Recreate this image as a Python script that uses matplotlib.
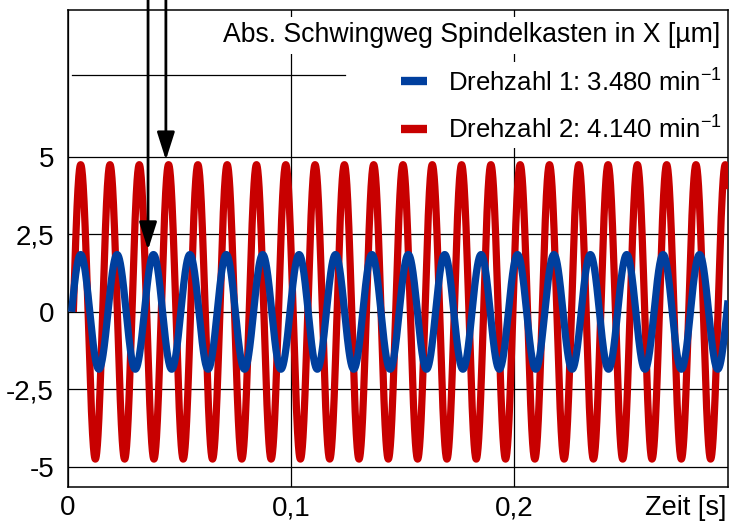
import numpy as np
import matplotlib
matplotlib.use("Agg")
import matplotlib.pyplot as plt
from matplotlib.lines import Line2D

plt.rcParams['font.family'] = ['Liberation Sans', 'DejaVu Sans']

# --- Données ---
titre = "Abs. Schwingweg Spindelkasten in X [µm]"
labels = ["Drehzahl 1: 3.480 min$^{\\mathregular{-1}}$",
          "Drehzahl 2: 4.140 min$^{\\mathregular{-1}}$"]
couleurs = ["#003f9e", "#c80000"]
amplitude = [1.85, 4.75]          # µm
frequence = [61.25, 76.1]         # Hz (période mesurée sur l'image)
debut = [0.0016, 0.0024]          # s, premier passage par zéro
t_fin = 0.296

yticks = [-5, -2.5, 0, 2.5, 5]
yticklabels = ["-5", "-2,5", "0", "2,5", "5"]
xticks = [0, 0.1, 0.2]
xticklabels = ["0", "0,1", "0,2"]
fleches = [(0.0359, 2.0), (0.0439, 4.9)]   # (t, valeur) pointe des flèches

fig = plt.figure(figsize=(7.31, 5.28), dpi=100)
ax = fig.add_axes([68/731, 41/528, 660/731, 477/528])

# Courbes : rouge d'abord, bleu par-dessus
for i in [1, 0]:
    t = np.linspace(debut[i], t_fin, 3000)
    y = amplitude[i] * np.sin(2 * np.pi * frequence[i] * (t - debut[i]))
    ax.plot(t, y, color=couleurs[i], lw=5.2, solid_capstyle='butt', zorder=3)

ax.set_xlim(0, t_fin)
ax.set_ylim(-5.65, 9.74)
ax.set_yticks(yticks)
ax.set_yticklabels(yticklabels)
ax.set_xticks(xticks)
ax.set_xticklabels(xticklabels)
ax.tick_params(length=0, labelsize=20)
ax.tick_params(axis='y', pad=10)
ax.tick_params(axis='x', pad=6)
ax.grid(True, color='black', lw=0.9, zorder=1)
ax.set_axisbelow(True)
for s in ax.spines.values():
    s.set_linewidth(1.1)
ax.axhline(7.65, xmin=0.006, xmax=0.42, color='black', lw=0.9, zorder=1)

ax.annotate("Zeit [s]", xy=(1, 0), xycoords='axes fraction',
            xytext=(-1, -6), textcoords='offset points',
            ha='right', va='top', fontsize=19.5)

# Titre + légende (fond blanc)
ax.text(0.988, 0.947, titre, transform=ax.transAxes, ha='right', va='center',
        fontsize=19.2, zorder=5,
        bbox=dict(facecolor='white', edgecolor='none', pad=4))
handles = [Line2D([], [], color=c, lw=6, solid_capstyle='butt') for c in couleurs]
leg = ax.legend(handles, labels, loc='upper right', bbox_to_anchor=(1.0, 0.893),
                fontsize=18.5, frameon=True, framealpha=1, edgecolor='none',
                fancybox=False, handlelength=1.0, handletextpad=0.8,
                labelspacing=0.75, borderpad=0.2, borderaxespad=0.05)
leg.set_zorder(5)

# Flèches depuis le haut
for tx, ty in fleches:
    ax.annotate("", xy=(tx, ty), xycoords='data',
                xytext=(tx, 10.1), textcoords='data',
                annotation_clip=False,
                arrowprops=dict(arrowstyle='-|>,head_length=0.85,head_width=0.27',
                                mutation_scale=20, color='black', lw=2,
                                shrinkA=0, shrinkB=0),
                zorder=6)

fig.savefig("out.png", dpi=100)
